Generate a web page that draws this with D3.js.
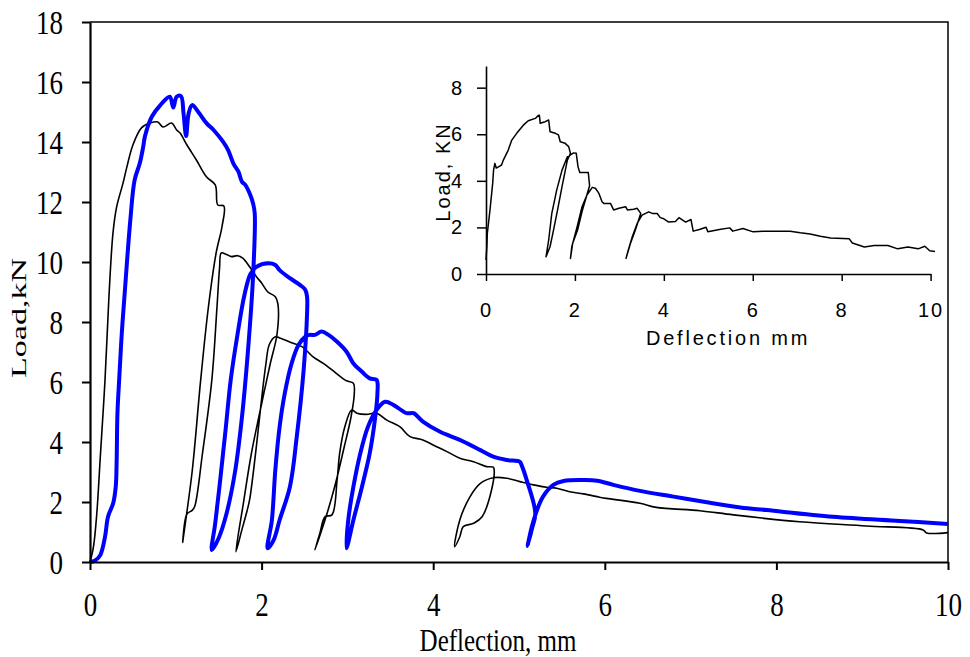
<!DOCTYPE html>
<html>
<head>
<meta charset="utf-8">
<script src="https://cdn.jsdelivr.net/npm/d3@7/dist/d3.min.js"></script>
<style>
  body { margin: 0; background: #fff; }
  #svg-container { width: 970px; height: 657px; }
</style>
</head>
<body>
<div id="svg-container"></div>
<script>
// main chart: deflection (mm), load (kN)
const xTicksMain = [0, 2, 4, 6, 8, 10]
const yTicksMain = [0, 2, 4, 6, 8, 10, 12, 14, 16, 18]

// thin black curve
const specimenA = [
  [0, 0], [0.04, 0.5], [0.078, 1.57], [0.12, 3.5], [0.175, 6.07], [0.22, 8.8], [0.268, 10.97],
  [0.31, 11.83], [0.385, 12.63], [0.43, 13.17], [0.5, 13.9], [0.6, 14.47], [0.7, 14.63],
  [0.79, 14.67], [0.85, 14.5], [0.95, 14.63], [1.01, 14.4], [1.05, 14.3], [1.13, 13.9],
  [1.24, 13.4], [1.36, 12.83], [1.46, 12.57], [1.49, 11.9], [1.56, 11.87],
  [1.54, 11.2], [1.47, 10.3], [1.38, 8.5], [1.29, 6.07], [1.19, 3.0], [1.08, 0.65],
  [1.13, 1.6], [1.19, 1.72], [1.22, 1.85], [1.31, 3.6], [1.42, 6.07], [1.48, 8.5], [1.51, 9.8],
  [1.53, 10.3], [1.59, 10.25], [1.65, 10.18], [1.72, 10.21], [1.78, 10.13], [1.86, 9.84],
  [1.94, 9.51], [2.0, 9.3], [2.07, 9.01], [2.16, 8.84], [2.19, 8.6],
  [2.18, 7.6], [2.1, 6.6], [1.98, 5.0], [1.88, 3.6], [1.79, 2.0], [1.7, 0.34],
  [1.77, 1.07], [1.83, 1.7], [1.86, 2.07], [1.93, 3.63], [1.99, 5.18], [2.05, 6.6], [2.09, 7.25],
  [2.16, 7.51], [2.22, 7.46], [2.35, 7.31], [2.47, 7.18], [2.6, 6.84], [2.72, 6.62], [2.87, 6.29],
  [2.99, 6.04], [3.07, 5.96], [3.08, 5.6],
  [3.04, 4.8], [2.96, 3.8], [2.86, 2.6], [2.75, 1.5], [2.62, 0.4],
  [2.68, 0.97], [2.74, 1.51], [2.82, 1.57], [2.88, 2.73], [2.91, 3.63], [2.97, 4.51], [3.05, 5.07],
  [3.11, 4.96], [3.22, 4.92], [3.34, 4.96], [3.46, 4.73], [3.61, 4.51], [3.73, 4.18], [3.88, 4.07],
  [4.0, 3.9], [4.16, 3.68], [4.31, 3.46], [4.47, 3.34], [4.62, 3.18], [4.7, 3.16], [4.71, 3.09],
  [4.68, 2.4], [4.57, 1.51], [4.47, 1.29], [4.35, 1.18], [4.31, 0.84], [4.25, 0.51],
  [4.31, 1.4], [4.43, 2.18], [4.55, 2.62], [4.7, 2.81], [4.86, 2.79], [5.01, 2.68], [5.17, 2.57],
  [5.32, 2.49], [5.44, 2.46], [5.59, 2.34], [5.75, 2.27], [5.94, 2.16], [6.02, 2.12], [6.41, 1.96],
  [6.6, 1.82], [7.11, 1.71], [7.5, 1.57], [8.27, 1.34], [9.05, 1.2], [9.71, 1.07], [9.75, 0.97],
  [10.0, 0.98]
]

// thick blue curve
const specimenB = [
  [0, 0], [0.06, 0.05], [0.12, 0.23], [0.175, 0.84], [0.21, 1.51], [0.27, 1.96], [0.3, 2.51],
  [0.31, 3.29], [0.32, 4.96], [0.34, 6.07], [0.37, 7.6], [0.41, 9.18], [0.47, 11.4], [0.52, 12.73],
  [0.58, 13.29], [0.62, 13.84], [0.64, 14.18], [0.72, 14.84], [0.82, 15.23], [0.93, 15.51],
  [0.97, 15.15], [1.01, 15.51], [1.06, 15.53], [1.09, 14.96], [1.12, 14.2], [1.15, 14.96],
  [1.19, 15.23], [1.26, 15.01], [1.36, 14.62], [1.44, 14.4], [1.55, 14.01], [1.61, 13.73],
  [1.67, 13.29], [1.73, 13.01], [1.77, 12.68], [1.81, 12.57], [1.86, 12.29], [1.9, 11.96],
  [1.92, 11.62],
  [1.9, 9.5], [1.84, 7.0], [1.77, 4.8], [1.69, 3.0], [1.59, 1.6], [1.5, 0.8], [1.42, 0.4],
  [1.46, 1.3], [1.52, 2.8], [1.58, 4.4], [1.64, 6.07], [1.72, 7.6], [1.8, 8.9], [1.87, 9.6],
  [1.94, 9.84], [2.08, 9.96], [2.16, 9.9], [2.21, 9.73], [2.33, 9.46], [2.45, 9.23], [2.51, 9.07],
  [2.53, 8.84], [2.53, 8.29],
  [2.49, 6.4], [2.41, 4.18], [2.33, 2.51], [2.21, 1.4], [2.14, 0.73], [2.07, 0.46],
  [2.12, 1.4], [2.16, 3.07], [2.21, 4.51], [2.27, 5.62], [2.35, 6.62], [2.43, 7.23], [2.51, 7.51],
  [2.56, 7.57], [2.62, 7.57], [2.7, 7.68], [2.78, 7.57], [2.88, 7.34], [2.99, 7.01], [3.07, 6.62],
  [3.17, 6.34], [3.26, 6.12], [3.34, 6.07], [3.35, 5.62],
  [3.32, 4.73], [3.26, 3.62], [3.17, 2.51], [3.07, 1.4], [2.99, 0.46],
  [3.01, 1.4], [3.07, 2.51], [3.15, 3.62], [3.24, 4.51], [3.34, 5.07], [3.44, 5.34],
  [3.54, 5.23], [3.69, 4.96], [3.77, 4.96], [3.88, 4.68], [4.08, 4.34], [4.31, 4.07], [4.55, 3.73],
  [4.7, 3.51], [4.86, 3.4], [5.01, 3.34], [5.03, 3.23],
  [5.09, 2.73], [5.19, 1.62], [5.15, 1.1], [5.1, 0.53],
  [5.15, 1.18], [5.21, 1.73], [5.28, 2.18], [5.4, 2.57], [5.52, 2.7], [5.75, 2.73], [5.91, 2.71],
  [6.1, 2.57], [6.41, 2.37], [6.8, 2.18], [7.19, 1.99], [7.58, 1.82], [7.89, 1.73], [8.66, 1.51],
  [9.44, 1.37], [10.0, 1.27]
]

// inset chart
const xTicksInset = [0, 2, 4, 6, 8, 10]
const yTicksInset = [0, 2, 4, 6, 8]
const insetCurve = [
  [0, 0.6], [0.02, 1.2], [0.03, 1.75], [0.09, 2.75], [0.15, 3.89], [0.17, 4.46], [0.2, 4.75],
  [0.23, 4.55], [0.28, 4.6], [0.35, 4.68], [0.39, 4.89], [0.5, 5.32], [0.58, 5.75], [0.69, 6.04],
  [0.84, 6.39], [0.95, 6.58], [1.11, 6.68], [1.18, 6.82], [1.2, 6.82], [1.22, 6.47], [1.33, 6.54],
  [1.41, 6.61], [1.44, 6.11], [1.56, 6.04], [1.63, 5.97], [1.67, 5.68], [1.78, 5.61], [1.86, 5.47],
  [1.9, 5.18],
  [1.83, 4.89], [1.71, 3.75], [1.61, 2.75], [1.52, 1.89], [1.44, 1.17], [1.35, 0.74],
  [1.41, 1.46], [1.48, 2.6], [1.59, 3.6], [1.71, 4.46], [1.83, 5.03], [1.97, 5.2], [2.03, 5.18],
  [2.07, 4.6], [2.11, 4.36], [2.3, 4.36], [2.33, 3.79],
  [2.17, 2.75], [2.06, 1.89], [1.95, 1.32], [1.9, 0.67],
  [1.93, 1.17], [2.05, 2.03], [2.16, 2.89], [2.27, 3.39], [2.39, 3.72], [2.46, 3.68], [2.54, 3.46],
  [2.61, 3.1], [2.65, 3.03], [2.8, 3.03], [2.87, 2.75], [2.99, 2.82], [3.14, 2.89], [3.18, 2.75],
  [3.32, 2.78], [3.4, 2.82], [3.48, 2.6],
  [3.36, 1.89], [3.25, 1.32], [3.15, 0.67],
  [3.19, 0.96], [3.29, 1.6], [3.4, 2.17], [3.51, 2.53], [3.66, 2.67], [3.74, 2.6], [3.85, 2.6],
  [3.92, 2.42], [4.0, 2.37], [4.11, 2.23], [4.26, 2.25], [4.34, 2.42], [4.49, 2.23], [4.61, 2.34],
  [4.66, 1.84], [4.8, 1.91], [4.95, 2.01], [4.99, 1.81], [5.25, 1.91], [5.48, 1.98], [5.55, 1.84],
  [5.78, 1.95], [6.01, 1.81], [6.23, 1.84], [6.54, 1.84], [6.84, 1.84], [7.07, 1.77], [7.29, 1.72],
  [7.52, 1.62], [7.75, 1.55], [8.17, 1.51], [8.24, 1.33], [8.51, 1.16], [8.73, 1.22], [9.04, 1.22],
  [9.26, 1.08], [9.49, 1.16], [9.72, 1.08], [9.87, 1.19], [9.98, 1.0], [10.1, 0.97]
]

const svg = d3.select('#svg-container')
  .append('svg').attr('width', 970).attr('height', 657)

const serif = '"Liberation Serif", "Times New Roman", serif'
const sans = '"Liberation Sans", Arial, sans-serif'

//schalen hoofdgrafiek
const xScale = d3.scaleLinear().domain([0, 10]).range([90, 948])
const yScale = d3.scaleLinear().domain([0, 18]).range([562, 22])

// kader boven en rechts
svg.append('path')
  .attr('d', `M90,22H948V562`)
  .attr('fill', 'none').attr('stroke', '#000').attr('stroke-width', 1.5)

const line = d3.line().x(d => xScale(d[0])).y(d => yScale(d[1]))
  .curve(d3.curveCatmullRom.alpha(0.5))

svg.append('path').datum(specimenA)
  .attr('d', line).attr('fill', 'none')
  .attr('stroke', '#000').attr('stroke-width', 1.6).attr('stroke-linejoin', 'round')

svg.append('path').datum(specimenB)
  .attr('d', line).attr('fill', 'none')
  .attr('stroke', '#0000ff').attr('stroke-width', 4).attr('stroke-linejoin', 'round')

const yAxisG = svg.append('g')
  .attr('transform', 'translate(90,0)')
  .call(d3.axisLeft(yScale).tickValues(yTicksMain).tickSize(8).tickSizeOuter(0))
const xAxisG = svg.append('g')
  .attr('transform', 'translate(0,562)')
  .call(d3.axisBottom(xScale).tickValues(xTicksMain).tickSize(8).tickSizeOuter(0))

for (const g of [yAxisG, xAxisG]) {
  g.selectAll('.domain').attr('stroke-width', 2.2)
  g.selectAll('.tick line').attr('stroke-width', 2)
  g.selectAll('text').attr('font-family', serif).attr('font-size', 27).attr('fill', '#000')
    .attr('x', null).attr('y', 0).attr('dy', null)
}
// tekst iets uitgerekt in de hoogte, zoals in het origineel
yAxisG.selectAll('text').attr('transform', 'translate(-27,11) scale(1,1.25)')
xAxisG.selectAll('text').attr('transform', 'translate(0,54) scale(1,1.25)')

svg.append('text')
  .attr('transform', 'translate(498,651) scale(1,1.25)')
  .attr('text-anchor', 'middle')
  .attr('font-family', serif).attr('font-size', 25)
  .text('Deflection, mm')

svg.append('text')
  .attr('transform', 'translate(26,318) scale(1,1.7) rotate(-90)')
  .attr('text-anchor', 'middle')
  .attr('font-family', serif).attr('font-size', 20)
  .text('Load,kN')

// inset
const xInset = d3.scaleLinear().domain([0, 10]).range([486, 930.6])
const yInset = d3.scaleLinear().domain([0, 8.93]).range([274, 66])

const insetLine = d3.line().x(d => xInset(d[0])).y(d => yInset(d[1]))

svg.append('path').datum(insetCurve)
  .attr('d', insetLine).attr('fill', 'none')
  .attr('stroke', '#000').attr('stroke-width', 1.5).attr('stroke-linejoin', 'round')

const yInsetG = svg.append('g')
  .attr('transform', 'translate(486,0)')
  .call(d3.axisLeft(yInset).tickValues(yTicksInset).tickSize(9).tickSizeOuter(0).tickPadding(13))
const xInsetG = svg.append('g')
  .attr('transform', 'translate(0,274)')
  .call(d3.axisBottom(xInset).tickValues(xTicksInset).tickSize(7).tickSizeOuter(0).tickPadding(22))

for (const g of [yInsetG, xInsetG]) {
  g.selectAll('.domain').attr('stroke-width', 1.6)
  g.selectAll('.tick line').attr('stroke-width', 1.5)
  g.selectAll('text').attr('font-family', sans).attr('font-size', 20).attr('fill', '#000')
    .attr('letter-spacing', 2)
}

svg.append('text')
  .attr('x', 728).attr('y', 345)
  .attr('text-anchor', 'middle')
  .attr('font-family', sans).attr('font-size', 20).attr('letter-spacing', 2.8)
  .text('Deflection mm')

svg.append('text')
  .attr('transform', 'translate(450,172) rotate(-90)')
  .attr('text-anchor', 'middle')
  .attr('font-family', sans).attr('font-size', 20).attr('letter-spacing', 2)
  .text('Load, KN')
</script>
</body>
</html>
